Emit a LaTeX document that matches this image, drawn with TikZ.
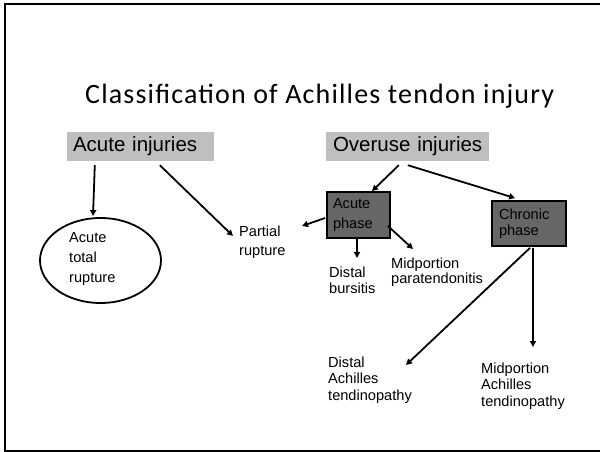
\documentclass[tikz,border=0pt]{standalone}
\usepackage{fontspec}
\setmainfont{Liberation Sans}
\newfontfamily\titlefont[LetterSpace=4.2]{Carlito}
\usetikzlibrary{arrows.meta,shapes.geometric}
\begin{document}
\begin{tikzpicture}[x=1pt,y=-1pt,
  conn/.style={line width=1.8pt,-{Triangle[length=6pt,width=6pt]}},
  headbox/.style={fill=black!25,inner ysep=0pt,minimum height=29pt,align=left,
    font=\fontsize{20.5}{24}\selectfont},
  phasebox/.style={fill=black!60,draw=black,line width=1.8pt,inner ysep=0pt,align=left},
  lbl/.style={inner sep=0pt,align=left,anchor=base west}]
\useasboundingbox (0,0) rectangle (600,452);
\draw[line width=2pt] (601,4.5) -- (4.5,4.5) -- (4.5,451) -- (601,451);
\node[anchor=base west,inner sep=0pt,font=\titlefont\fontsize{28}{32}\selectfont] (title) at (85,103) {Classification of Achilles tendon injury};
\node[headbox,text width=135pt,inner xsep=6pt] (acuteinj) at (140.5,146.5) {\mbox{Acute injuries}};
\node[headbox,text width=149pt,inner xsep=7pt] (overuse) at (407.5,146.5) {\mbox{Overuse injuries}};
\node[draw,ellipse,line width=1.8pt,minimum width=121pt,minimum height=85pt,inner sep=0pt] (ell) at (100.5,260.5) {};
\node[lbl,font=\fontsize{14.6}{20}\selectfont] (total) at (69,282) {Acute\\total\\rupture};
\node[lbl,font=\fontsize{14.6}{19}\selectfont] (partial) at (239,255) {Partial\\rupture};
\node[phasebox,text width=51pt,inner xsep=6pt,minimum height=46pt,font=\fontsize{14.6}{20}\selectfont] (acuteph) at (358.5,215) {Acute\\phase};
\node[phasebox,text width=60pt,inner xsep=7pt,minimum height=45pt,font=\fontsize{14.6}{15.5}\selectfont] (chronph) at (529,223.5) {Chronic\\phase};
\node[lbl,font=\fontsize{14.6}{15.5}\selectfont] (bursitis) at (329,293) {Distal\\bursitis};
\node[lbl,font=\fontsize{14.6}{15.5}\selectfont] (para) at (391,283.5) {Midportion\\paratendonitis};
\node[lbl,font=\fontsize{14.6}{16.5}\selectfont] (distA) at (328,400) {Distal\\Achilles\\tendinopathy};
\node[lbl,font=\fontsize{14.6}{16.5}\selectfont] (midA) at (481,406) {Midportion\\Achilles\\tendinopathy};
\draw[conn] ([shift={(28,4)}]acuteinj.south west) -- ([shift={(-7.5,-1)}]ell.north);
\draw[conn] ([shift={(93,4)}]acuteinj.south west) -- ([shift={(-6,-19)}]partial.base west);
\draw[conn] ([shift={(-1,3)}]acuteph.west) -- ([shift={(63,-29)}]partial.base west);
\draw[conn] ([shift={(73,4)}]overuse.south west) -- ([shift={(13.5,0)}]acuteph.north);
\draw[conn] ([shift={(82,4)}]overuse.south west) -- ([shift={(24,-2)}]chronph.north west);
\draw[conn] ([shift={(-1.5,-1)}]acuteph.south) -- ([shift={(28,-35)}]bursitis.base west);
\draw[conn] ([shift={(-3,11)}]acuteph.east) -- ([shift={(22,-34.5)}]para.base west);
\draw[conn] ([shift={(1,1)}]chronph.south) -- ([shift={(78,-35)}]distA.base west);
\draw[conn] ([shift={(4,1)}]chronph.south) -- ([shift={(52,-59)}]midA.base west);
\end{tikzpicture}
\end{document}
